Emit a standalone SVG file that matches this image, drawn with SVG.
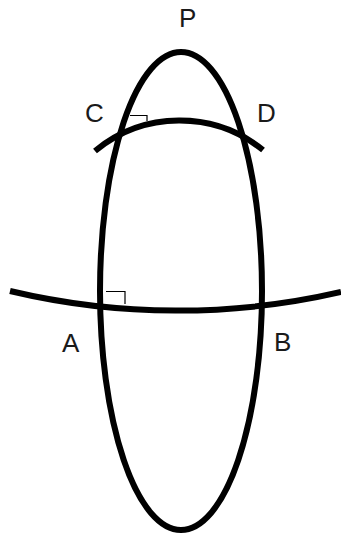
<svg xmlns="http://www.w3.org/2000/svg" width="341" height="537" viewBox="0 0 341 537">
<style>
.curve{fill:none;stroke:#000;stroke-width:6}
.mark{fill:none;stroke:#000;stroke-width:1.2}
.lbl{font-family:"Liberation Sans",Arial,sans-serif;font-size:26px;fill:#1a1a1a}
</style>
<rect width="341" height="537" fill="#fff"/>
<g id="connectors">
<ellipse id="ellipse" class="curve" cx="181" cy="291" rx="81" ry="239"/>
<path id="arcCD" class="curve" d="M95,151 A133,133 0 0 1 263,150"/>
<path id="arcAB" class="curve" d="M10,291 A726,726 0 0 0 341,292"/>
<polyline class="mark" points="130,115.5 147,115.5 147,121"/>
<polyline class="mark" points="106,291.5 125,291.5 125,304"/>
</g>
<g id="P"><text class="lbl" x="179" y="27">P</text></g>
<g id="C"><text class="lbl" x="85" y="122">C</text></g>
<g id="D"><text class="lbl" x="257" y="122">D</text></g>
<g id="A"><text class="lbl" x="62" y="352">A</text></g>
<g id="B"><text class="lbl" x="274" y="351">B</text></g>
</svg>
